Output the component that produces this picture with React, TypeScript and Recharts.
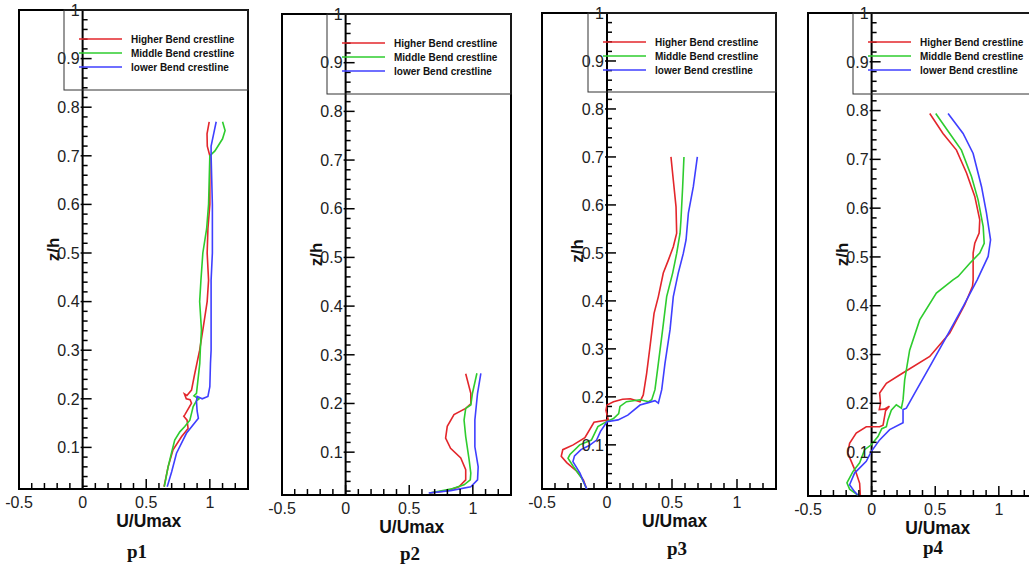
import React from 'react';
import { LineChart, Line, XAxis, YAxis, ReferenceLine, ReferenceArea } from 'recharts';

// ---------- data (u = U/Umax, z = z/h) ----------
const seriesNames = ['Higher Bend crestline', 'Middle Bend crestline', 'lower Bend crestline'];
const seriesColors = ['#e3262b', '#2ecc2e', '#3f3fff'];
const panelLabels = ['p1', 'p2', 'p3', 'p4'];

const p1Higher = [[0.995,0.77],[0.978,0.745],[0.98,0.72],[1.0,0.70],[1.0,0.6],[0.985,0.55],[0.979,0.5],[0.99,0.444],[0.979,0.4],[0.95,0.35],[0.92,0.30],[0.88,0.25],[0.856,0.218],[0.82,0.207],[0.80,0.210],[0.815,0.200],[0.845,0.198],[0.856,0.191],[0.803,0.167],[0.795,0.164],[0.821,0.156],[0.829,0.139],[0.777,0.122],[0.711,0.095],[0.672,0.060],[0.640,0.019]];
const p1Middle = [[1.10,0.77],[1.12,0.752],[1.10,0.735],[1.04,0.71],[1.0,0.70],[0.995,0.65],[0.99,0.6],[0.975,0.55],[0.945,0.5],[0.93,0.444],[0.92,0.4],[0.934,0.342],[0.925,0.30],[0.921,0.273],[0.895,0.211],[0.875,0.206],[0.90,0.202],[0.915,0.20],[0.895,0.196],[0.869,0.184],[0.856,0.170],[0.843,0.156],[0.803,0.143],[0.764,0.132],[0.724,0.115],[0.70,0.09],[0.672,0.060],[0.642,0.019]];
const p1Lower = [[1.05,0.77],[1.03,0.745],[1.01,0.72],[1.01,0.70],[1.02,0.6],[1.02,0.5],[1.01,0.444],[1.01,0.4],[1.01,0.3],[1.005,0.273],[1.0,0.225],[0.985,0.205],[0.94,0.200],[0.90,0.205],[0.895,0.195],[0.90,0.175],[0.91,0.16],[0.816,0.129],[0.738,0.088],[0.70,0.05],[0.665,0.019]];

const p2Higher = [[0.944,0.261],[0.984,0.221],[0.984,0.199],[0.944,0.190],[0.852,0.177],[0.799,0.153],[0.786,0.129],[0.825,0.108],[0.905,0.088],[0.944,0.064],[0.944,0.043],[0.891,0.029],[0.799,0.021],[0.66,0.016]];
const p2Middle = [[1.032,0.262],[0.997,0.221],[0.984,0.197],[0.944,0.19],[0.931,0.166],[0.944,0.132],[0.971,0.084],[0.984,0.057],[0.98,0.043],[0.931,0.033],[0.825,0.024],[0.66,0.016]];
const p2Lower = [[1.063,0.262],[1.037,0.221],[1.016,0.166],[1.016,0.111],[1.042,0.070],[1.037,0.043],[0.984,0.029],[0.825,0.021],[0.653,0.016]];

const p3Higher = [[0.492,0.70],[0.51,0.652],[0.531,0.596],[0.536,0.541],[0.51,0.513],[0.472,0.485],[0.433,0.458],[0.395,0.409],[0.362,0.374],[0.331,0.305],[0.305,0.249],[0.279,0.204],[0.254,0.190],[0.18,0.196],[0.12,0.195],[0.05,0.19],[0.0,0.183],[-0.008,0.172],[-0.002,0.165],[0.01,0.152],[-0.1,0.147],[-0.17,0.115],[-0.26,0.10],[-0.34,0.09],[-0.352,0.076],[-0.31,0.063],[-0.233,0.045],[-0.182,0.027],[-0.156,0.008]];
const p3Middle = [[0.592,0.70],[0.582,0.638],[0.569,0.569],[0.562,0.541],[0.536,0.499],[0.505,0.458],[0.459,0.409],[0.428,0.34],[0.395,0.27],[0.369,0.215],[0.344,0.194],[0.32,0.19],[0.254,0.194],[0.15,0.19],[0.10,0.18],[0.09,0.165],[0.05,0.155],[0.0,0.149],[-0.07,0.138],[-0.12,0.11],[-0.21,0.10],[-0.285,0.08],[-0.30,0.072],[-0.259,0.055],[-0.195,0.031],[-0.156,0.008]];
const p3Lower = [[0.695,0.70],[0.664,0.638],[0.626,0.583],[0.608,0.527],[0.587,0.499],[0.548,0.458],[0.51,0.409],[0.485,0.34],[0.446,0.27],[0.421,0.215],[0.395,0.187],[0.369,0.192],[0.318,0.188],[0.254,0.183],[0.16,0.162],[0.085,0.152],[0.0,0.148],[-0.05,0.128],[-0.08,0.11],[-0.14,0.098],[-0.2,0.09],[-0.25,0.077],[-0.262,0.065],[-0.208,0.041],[-0.156,0.008]];

const p4Higher = [[0.457,0.794],[0.561,0.753],[0.667,0.719],[0.746,0.672],[0.811,0.624],[0.85,0.576],[0.845,0.549],[0.811,0.528],[0.798,0.508],[0.798,0.453],[0.793,0.44],[0.732,0.402],[0.614,0.344],[0.457,0.296],[0.22,0.258],[0.116,0.241],[0.063,0.221],[0.07,0.2],[0.06,0.187],[0.10,0.188],[0.14,0.194],[0.11,0.185],[0.10,0.17],[0.09,0.155],[0.063,0.152],[-0.042,0.152],[-0.121,0.139],[-0.173,0.118],[-0.187,0.098],[-0.16,0.081],[-0.121,0.057],[-0.094,0.036],[-0.089,0.012]];
const p4Middle = [[0.504,0.794],[0.614,0.753],[0.706,0.719],[0.785,0.665],[0.837,0.617],[0.877,0.562],[0.885,0.528],[0.85,0.508],[0.772,0.487],[0.68,0.46],[0.64,0.453],[0.509,0.426],[0.378,0.371],[0.299,0.309],[0.26,0.248],[0.247,0.207],[0.234,0.19],[0.194,0.197],[0.155,0.186],[0.128,0.166],[0.116,0.152],[0.08,0.148],[0.05,0.132],[-0.003,0.115],[-0.055,0.105],[-0.094,0.078],[-0.147,0.06],[-0.194,0.037],[-0.173,0.024],[-0.108,0.012]];
const p4Lower = [[0.601,0.794],[0.719,0.753],[0.798,0.712],[0.864,0.644],[0.903,0.59],[0.935,0.535],[0.916,0.501],[0.83,0.453],[0.719,0.398],[0.588,0.336],[0.457,0.275],[0.339,0.221],[0.273,0.19],[0.247,0.187],[0.247,0.16],[0.142,0.146],[0.063,0.125],[-0.003,0.101],[-0.042,0.081],[-0.134,0.057],[-0.173,0.033],[-0.134,0.019],[-0.11,0.012]];

const xTicks = [-0.5,-0.4,-0.3,-0.2,-0.1,0,0.1,0.2,0.3,0.4,0.5,0.6,0.7,0.8,0.9,1.0,1.1,1.2];
const yTicks = Array.from({ length: 50 }, (_, i) => Math.round((i + 1) * 2) / 100);
const XMIN = -0.5;
const XMAX = 1.3;

// ---------- layout ----------
const ML = 18, MR = 6, MT = 12, XH = 80, YW = 1;
const SANS = '"Liberation Sans", Arial, Helvetica, sans-serif';
const SERIF = '"Liberation Serif", "Times New Roman", serif';

const toPts = (a: number[][]) => a.map(([u, z]) => ({ u, z }));

const panels = [
  { left: 19, top: 10, w: 229, h: 479, ymin: 0.0144, series: [p1Higher, p1Middle, p1Lower], lg: { left: 64, top: 10, w: 184, h: 80 }, pX: 118, pY: 69 },
  { left: 282, top: 14, w: 229, h: 481, ymin: 0.012, series: [p2Higher, p2Middle, p2Lower], lg: { left: 327, top: 14, w: 184, h: 80 }, pX: 128, pY: 65 },
  { left: 542, top: 13, w: 234, h: 476, ymin: 0.008, series: [p3Higher, p3Middle, p3Lower], lg: { left: 588, top: 13, w: 188, h: 79 }, pX: 135, pY: 66 },
  { left: 808, top: 13, w: 229, h: 483, ymin: 0.01, series: [p4Higher, p4Middle, p4Lower], lg: { left: 853, top: 13, w: 184, h: 81 }, pX: 125, pY: 58 },
];

const XTick = (props: any) => {
  const { x, y, payload } = props;
  const v = payload.value as number;
  const major = Math.abs(v * 2 - Math.round(v * 2)) < 1e-6;
  const label = v === 0 ? '0' : v === 1 ? '1' : String(v);
  return (
    <g>
      <line x1={x} x2={x} y1={y} y2={y - (major ? 10 : 6)} stroke="#000" strokeWidth={1.5} />
      {major && (
        <text x={x} y={y + 19} textAnchor="middle" fontSize={16} fill="#222" fontFamily={SANS}>
          {label}
        </text>
      )}
    </g>
  );
};

const YTick = (props: any) => {
  const { x, y, payload, off } = props;
  const v = payload.value as number;
  const major = Math.abs(v * 10 - Math.round(v * 10)) < 1e-6;
  const x0 = x + off;
  const label = Math.abs(v - 1) < 1e-9 ? '1' : v.toFixed(1);
  return (
    <g>
      <line x1={major ? x0 - 2 : x0} x2={x0 + (major ? 9 : 5)} y1={y} y2={y} stroke="#000" strokeWidth={1.5} />
      {major && (
        <text x={x0 - 3} y={y} dy="0.36em" textAnchor="end" fontSize={16} fill="#222" fontFamily={SANS}>
          {label}
        </text>
      )}
    </g>
  );
};

const Panel = ({ p, idx }: { p: any; idx: number }) => {
  const off = (p.w * (0 - XMIN)) / (XMAX - XMIN);
  const width = p.w + ML + YW + MR;
  const height = MT + p.h + XH;
  const plotLeft = ML + YW;
  return (
    <div style={{ position: 'absolute', left: p.left - plotLeft, top: p.top - MT }}>
      <LineChart width={width} height={height} margin={{ top: MT, right: MR, bottom: 0, left: ML }}>
        <XAxis
          type="number"
          dataKey="u"
          domain={[XMIN, XMAX]}
          allowDataOverflow
          ticks={xTicks}
          interval={0}
          height={XH}
          axisLine={false}
          tickLine={false}
          tickSize={0}
          tickMargin={0}
          tick={(tp: any) => <XTick {...tp} />}
          label={{
            content: () => (
              <g>
                <text x={plotLeft + (p.w * 1.02) / 1.8} y={MT + p.h + 38} textAnchor="middle" fontSize={17.5} fontWeight="bold" fill="#111" fontFamily={SANS}>
                  U/Umax
                </text>
                <text x={plotLeft + p.pX} y={MT + p.h + p.pY} textAnchor="middle" fontSize={19} fontWeight="bold" fill="#111" fontFamily={SERIF}>
                  {panelLabels[idx]}
                </text>
              </g>
            ),
          }}
        />
        <YAxis
          type="number"
          domain={[p.ymin, 1]}
          allowDataOverflow
          ticks={yTicks.filter((t) => t > p.ymin)}
          interval={0}
          width={YW}
          axisLine={false}
          tickLine={false}
          tickSize={0}
          tickMargin={0}
          tick={(tp: any) => <YTick {...tp} off={off} />}
          label={{
            content: () => {
              const cx = plotLeft + off - 30;
              const cy = MT + p.h / 2;
              return (
                <text x={cx} y={cy} transform={`rotate(-90 ${cx} ${cy})`} textAnchor="middle" dy="0.36em" fontSize={17} fontWeight="bold" fill="#111" fontFamily={SANS}>
                  z/h
                </text>
              );
            },
          }}
        />
        <ReferenceArea x1={XMIN} x2={XMAX} y1={p.ymin} y2={1} fill="none" fillOpacity={0} stroke="#000" strokeWidth={2} ifOverflow="visible" />
        <ReferenceLine x={0} stroke="#000" strokeWidth={2} ifOverflow="visible" />
        {p.series.map((s: number[][], i: number) => (
          <Line
            key={i}
            data={toPts(s)}
            dataKey="z"
            name={seriesNames[i]}
            type="linear"
            stroke={seriesColors[i]}
            strokeWidth={1.6}
            dot={false}
            activeDot={false}
            isAnimationActive={false}
          />
        ))}
      </LineChart>
      {/* legend */}
      <svg
        width={p.lg.w + 2}
        height={p.lg.h + 2}
        style={{ position: 'absolute', left: p.lg.left - p.left + plotLeft - 1, top: p.lg.top - p.top + MT - 1, overflow: 'visible' }}
      >
        <rect x={1} y={1} width={p.lg.w} height={p.lg.h} fill="none" stroke="#333" strokeWidth={1} />
        {seriesNames.map((n, i) => (
          <g key={n}>
            <line x1={16} x2={59} y1={30 + i * 14} y2={30 + i * 14} stroke={seriesColors[i]} strokeWidth={1.6} />
            <text x={68} y={30 + i * 14} dy="0.35em" fontSize={10} fontWeight="bold" fill="#111" fontFamily={SANS}>
              {n}
            </text>
          </g>
        ))}
      </svg>
    </div>
  );
};

export default function App() {
  return (
    <div style={{ position: 'fixed', left: 0, top: 0, width: 1029, height: 564, overflow: 'hidden', background: '#fff' }}>
      {panels.map((p, i) => (
        <Panel key={i} p={p} idx={i} />
      ))}
    </div>
  );
}
